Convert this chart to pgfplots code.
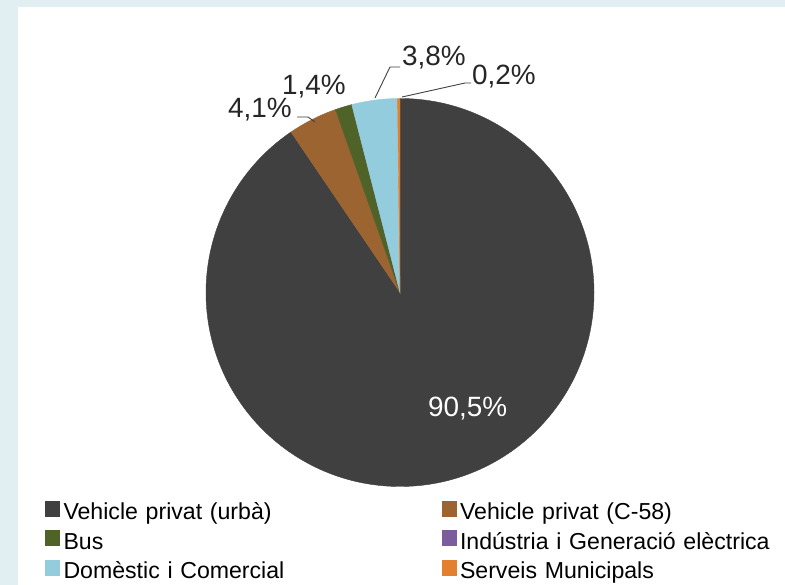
\documentclass[border=0pt]{standalone}
\usepackage{pgfplots}
\pgfplotsset{compat=1.18}
\usepackage{pgfplotstable}
\usepackage{fontspec}
\setmainfont{Liberation Sans}
\definecolor{bgframe}{HTML}{E1EFF3}
\definecolor{s0}{HTML}{404040}
\definecolor{s1}{HTML}{9B6431}
\definecolor{s2}{HTML}{4F6228}
\definecolor{s3}{HTML}{7A5C9F}
\definecolor{s4}{HTML}{93CDDD}
\definecolor{s5}{HTML}{E47F2E}
\definecolor{leader}{HTML}{404040}

\pgfplotstableread{
start value col
0.0 90.5 0
90.5 4.1 1
94.6 1.4 2
96.0 0.0 3
96.0 3.8 4
99.8 0.2 5
}\piedata

\begin{document}
\begin{tikzpicture}[x=1bp,y=1bp]
\path[use as bounding box] (0,0) rectangle (785,585);
\fill[bgframe] (0,0) rectangle (785,585);
\fill[white] (18,0) rectangle (785,578);
\begin{axis}[
  x=1bp, y=1bp, xmin=0, xmax=785, ymin=0, ymax=585,
  anchor=south west, at={(0,0)}, hide axis, clip=false,
  legend columns=2,
  legend cell align=left,
  legend style={at={(axis cs:45,84)}, anchor=north west, draw=none, fill=none,
    inner sep=0pt, outer sep=0pt, row sep=4.5bp,
    font=\fontsize{23.2}{28}\selectfont,
    nodes={inner sep=0pt, outer sep=0pt, text height=17bp, text depth=6bp, text width=378bp, align=left},
    /tikz/every even column/.append style={column sep=0bp},
    /tikz/every odd column/.append style={column sep=3.5bp}},
  legend image code/.code={\fill[#1] (0bp,-2.5bp) rectangle (15bp,13.5bp);},
]
\addplot[scatter, only marks, mark=text, text mark={},
  visualization depends on={\thisrow{start}\as\st},
  visualization depends on={\thisrow{value}\as\val},
  visualization depends on={\thisrow{col}\as\ci},
  scatter/@pre marker code/.code={%
    \pgfmathsetmacro\aS{90-3.6*\st}%
    \pgfmathsetmacro\aE{90-3.6*(\st+\val)}%
    \pgfmathtruncatemacro\cidx{\ci}%
    \fill[color=s\cidx] (0bp,0bp) -- (\aS:194bp) arc[start angle=\aS, end angle=\aE, radius=194bp] -- cycle;
    \scope
  },
  scatter/@post marker code/.code={\endscope},
  forget plot,
] table[x expr=400, y expr=292.5] {\piedata};

\addlegendimage{fill=s0, draw=none}
\addlegendentry{Vehicle privat (urbà)}
\addlegendimage{fill=s1, draw=none}
\addlegendentry{Vehicle privat (C-58)}
\addlegendimage{fill=s2, draw=none}
\addlegendentry{Bus}
\addlegendimage{fill=s3, draw=none}
\addlegendentry{Indústria i Generació elèctrica}
\addlegendimage{fill=s4, draw=none}
\addlegendentry{Domèstic i Comercial}
\addlegendimage{fill=s5, draw=none}
\addlegendentry{Serveis Municipals}
\end{axis}

% leader lines (picture coordinates coincide with axis coordinates)
\draw[leader, line width=0.9bp] (297,468) -- (308,468) -- (315,463);
\draw[leader, line width=0.9bp] (375,487) -- (390,518) -- (400,518);
\draw[leader, line width=0.9bp] (402,488) -- (465,502) -- (471,502);
% percentage labels
\begin{scope}[every node/.style={inner sep=0pt, anchor=base west, font=\fontsize{28}{30}\selectfont, text=black!85}]
\node at (228,467) {4,1\%};
\node at (282,490) {1,4\%};
\node at (402,519) {3,8\%};
\node at (472,500) {0,2\%};
\node[text=white] at (428,168) {90,5\%};
\end{scope}
\end{tikzpicture}
\end{document}
